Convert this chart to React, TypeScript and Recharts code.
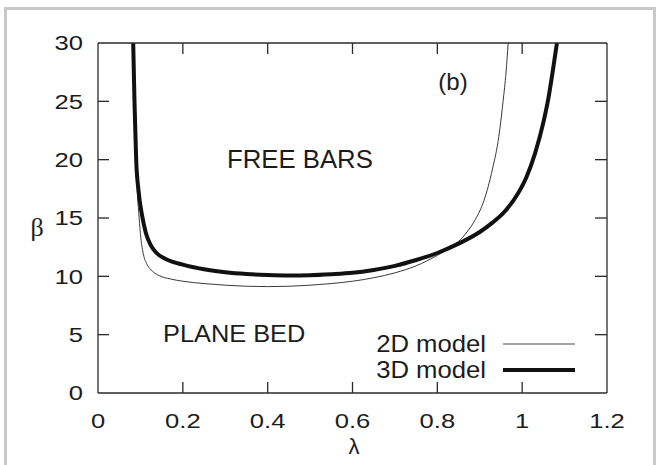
import React from "react";
import { LineChart, Line, XAxis, YAxis, Customized } from "recharts";

// Axis ticks
const lambdaTicks = [0, 0.2, 0.4, 0.6, 0.8, 1, 1.2];
const betaTicks = [0, 5, 10, 15, 20, 25, 30];

// Neutral curve, 2D model (lambda, beta)
const model2D = [
  { lambda: 0.083, beta: 30 },
  { lambda: 0.086, beta: 25 },
  { lambda: 0.089, beta: 20 },
  { lambda: 0.093, beta: 17 },
  { lambda: 0.097, beta: 15 },
  { lambda: 0.101, beta: 13.3 },
  { lambda: 0.107, beta: 11.9 },
  { lambda: 0.116, beta: 11.0 },
  { lambda: 0.128, beta: 10.45 },
  { lambda: 0.145, beta: 10.05 },
  { lambda: 0.17, beta: 9.78 },
  { lambda: 0.2, beta: 9.58 },
  { lambda: 0.25, beta: 9.38 },
  { lambda: 0.3, beta: 9.24 },
  { lambda: 0.35, beta: 9.15 },
  { lambda: 0.4, beta: 9.12 },
  { lambda: 0.45, beta: 9.15 },
  { lambda: 0.5, beta: 9.24 },
  { lambda: 0.55, beta: 9.38 },
  { lambda: 0.6, beta: 9.58 },
  { lambda: 0.65, beta: 9.88 },
  { lambda: 0.7, beta: 10.3 },
  { lambda: 0.75, beta: 10.9 },
  { lambda: 0.8, beta: 11.8 },
  { lambda: 0.83, beta: 12.45 },
  { lambda: 0.85, beta: 13.0 },
  { lambda: 0.87, beta: 13.8 },
  { lambda: 0.89, beta: 14.9 },
  { lambda: 0.91, beta: 16.5 },
  { lambda: 0.93, beta: 19.2 },
  { lambda: 0.945, beta: 22.0 },
  { lambda: 0.955, beta: 25 },
  { lambda: 0.962, beta: 27.5 },
  { lambda: 0.967, beta: 30 },
];

// Neutral curve, 3D model (lambda, beta)
const model3D = [
  { lambda: 0.083, beta: 30 },
  { lambda: 0.086, beta: 25 },
  { lambda: 0.09, beta: 20 },
  { lambda: 0.096, beta: 17.2 },
  { lambda: 0.104, beta: 15.2 },
  { lambda: 0.113, beta: 13.7 },
  { lambda: 0.124, beta: 12.7 },
  { lambda: 0.138, beta: 12.0 },
  { lambda: 0.162, beta: 11.45 },
  { lambda: 0.2, beta: 11.0 },
  { lambda: 0.25, beta: 10.6 },
  { lambda: 0.3, beta: 10.35 },
  { lambda: 0.35, beta: 10.2 },
  { lambda: 0.4, beta: 10.12 },
  { lambda: 0.45, beta: 10.08 },
  { lambda: 0.5, beta: 10.1 },
  { lambda: 0.55, beta: 10.18 },
  { lambda: 0.6, beta: 10.3 },
  { lambda: 0.65, beta: 10.55 },
  { lambda: 0.7, beta: 10.9 },
  { lambda: 0.75, beta: 11.4 },
  { lambda: 0.8, beta: 12.0 },
  { lambda: 0.85, beta: 12.8 },
  { lambda: 0.9, beta: 13.8 },
  { lambda: 0.93, beta: 14.6 },
  { lambda: 0.96, beta: 15.6 },
  { lambda: 0.99, beta: 17.1 },
  { lambda: 1.01, beta: 18.5 },
  { lambda: 1.03, beta: 20.5 },
  { lambda: 1.05, beta: 23.2 },
  { lambda: 1.062, beta: 25.3 },
  { lambda: 1.073, beta: 27.8 },
  { lambda: 1.082, beta: 30 },
];

const W = 661;
const H = 465;
const MARGIN = { top: 13, right: 24, bottom: 42, left: 38 };
const LEFT_W = 60;
const RIGHT_W = 30;
const BOTTOM_H = 30;
const TOP_H = 30;
const PLOT_LEFT = MARGIN.left + LEFT_W;
const PLOT_RIGHT = W - MARGIN.right - RIGHT_W;
const PLOT_TOP = MARGIN.top + TOP_H;
const PLOT_BOTTOM = H - MARGIN.bottom - BOTTOM_H;

const INK = "#1c1c1c";
const FRAME = "#2a2a2a";
const SANS = "'Liberation Sans', Arial, Helvetica, sans-serif";
const TICK_LEN = 11;

const fmt = (v: number) => String(v);

const BottomTick = (props: any) => {
  const { x, payload } = props;
  const v = payload.value;
  const inner = v > 0 && v < 1.2;
  return (
    <g>
      {inner && (
        <line x1={x} x2={x} y1={PLOT_BOTTOM} y2={PLOT_BOTTOM - TICK_LEN} stroke={FRAME} strokeWidth={1.3} />
      )}
      <text
        transform={`translate(${x},428) scale(1.28,1)`}
        textAnchor="middle"
        fontFamily={SANS}
        fontSize={20}
        fill={INK}
      >
        {fmt(v)}
      </text>
    </g>
  );
};

const TopTick = (props: any) => {
  const { x, payload } = props;
  const v = payload.value;
  if (!(v > 0 && v < 1.2)) return <g />;
  return <line x1={x} x2={x} y1={PLOT_TOP} y2={PLOT_TOP + TICK_LEN} stroke={FRAME} strokeWidth={1.3} />;
};

const LeftTick = (props: any) => {
  const { y, payload } = props;
  const v = payload.value;
  const inner = v > 0 && v < 30;
  return (
    <g>
      {inner && (
        <line x1={PLOT_LEFT} x2={PLOT_LEFT + TICK_LEN} y1={y} y2={y} stroke={FRAME} strokeWidth={1.3} />
      )}
      <text
        transform={`translate(83,${y + 7.3}) scale(1.28,1)`}
        textAnchor="end"
        fontFamily={SANS}
        fontSize={20}
        fill={INK}
      >
        {fmt(v)}
      </text>
    </g>
  );
};

const RightTick = (props: any) => {
  const { y, payload } = props;
  const v = payload.value;
  if (!(v > 0 && v < 30)) return <g />;
  return <line x1={PLOT_RIGHT} x2={PLOT_RIGHT - 12} y1={y} y2={y} stroke={FRAME} strokeWidth={1.3} />;
};

// Axis titles, region names, panel tag and the key
const Annotations = () => (
  <g fill={INK}>
    <text x={37} y={236} textAnchor="middle" fontFamily="'Liberation Serif', 'Times New Roman', serif" fontSize={26}>
      β
    </text>
    <text x={354} y={454} textAnchor="middle" fontFamily={SANS} fontSize={22}>
      λ
    </text>
    <text transform="translate(227,168.3) scale(1.03,1)" fontFamily={SANS} fontSize={25}>
      FREE BARS
    </text>
    <text transform="translate(163,341.7) scale(1.08,1)" fontFamily={SANS} fontSize={23.5}>
      PLANE BED
    </text>
    <text x={453} y={90} textAnchor="middle" fontFamily={SANS} fontSize={24}>
      (b)
    </text>
    <text transform="translate(486,352.3) scale(1.07,1)" textAnchor="end" fontFamily={SANS} fontSize={24}>
      2D model
    </text>
    <line x1={503} x2={575} y1={344} y2={344} stroke="#4a4a4a" strokeWidth={1} />
    <text transform="translate(486,378.3) scale(1.07,1)" textAnchor="end" fontFamily={SANS} fontSize={24}>
      3D model
    </text>
    <line x1={503} x2={575} y1={370} y2={370} stroke="#111" strokeWidth={4} />
  </g>
);

export default function App() {
  return (
    <div style={{ position: "fixed", left: 0, top: 0, width: W, height: H, overflow: "hidden", background: "#fff" }}>
      <div
        style={{
          position: "absolute",
          left: 4,
          top: 7,
          width: 652,
          height: 458,
          boxSizing: "border-box",
          borderStyle: "solid",
          borderColor: "#c9c9c9",
          borderWidth: "3px 3px 0 3px",
        }}
      />
      <div style={{ position: "absolute", left: 0, top: 0 }}>
        <LineChart width={W} height={H} margin={MARGIN}>
          <XAxis
            xAxisId="bottom"
            dataKey="lambda"
            type="number"
            domain={[0, 1.2]}
            ticks={lambdaTicks}
            allowDataOverflow
            height={BOTTOM_H}
            axisLine={{ stroke: FRAME, strokeWidth: 1.3 }}
            tickLine={false}
            tick={<BottomTick />}
            interval={0}
          />
          <XAxis
            xAxisId="top"
            orientation="top"
            dataKey="lambda"
            type="number"
            domain={[0, 1.2]}
            ticks={lambdaTicks}
            allowDataOverflow
            height={TOP_H}
            axisLine={{ stroke: FRAME, strokeWidth: 1.3 }}
            tickLine={false}
            tick={<TopTick />}
            interval={0}
          />
          <YAxis
            yAxisId="left"
            type="number"
            domain={[0, 30]}
            ticks={betaTicks}
            allowDataOverflow
            width={LEFT_W}
            axisLine={{ stroke: FRAME, strokeWidth: 1.3 }}
            tickLine={false}
            tick={<LeftTick />}
            interval={0}
          />
          <YAxis
            yAxisId="right"
            orientation="right"
            type="number"
            domain={[0, 30]}
            ticks={betaTicks}
            allowDataOverflow
            width={RIGHT_W}
            axisLine={{ stroke: FRAME, strokeWidth: 1.3 }}
            tickLine={false}
            tick={<RightTick />}
            interval={0}
          />
          <Line
            data={model2D}
            dataKey="beta"
            xAxisId="bottom"
            yAxisId="left"
            type="monotone"
            stroke="#3a3a3a"
            strokeWidth={1}
            dot={false}
            activeDot={false}
            isAnimationActive={false}
          />
          <Line
            data={model3D}
            dataKey="beta"
            xAxisId="bottom"
            yAxisId="left"
            type="monotone"
            stroke="#111"
            strokeWidth={4}
            dot={false}
            activeDot={false}
            isAnimationActive={false}
          />
          <Customized component={Annotations} />
        </LineChart>
      </div>
    </div>
  );
}
